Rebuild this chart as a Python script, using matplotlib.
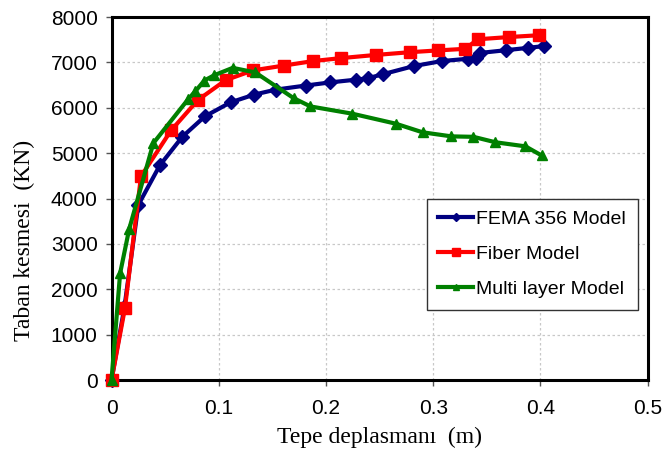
import matplotlib.pyplot as plt
import numpy as np

# FEMA 356 Model
femaX = [0, 0.012, 0.025, 0.045, 0.066, 0.087, 0.111, 0.133, 0.153, 0.181, 0.204,
         0.228, 0.239, 0.253, 0.282, 0.308, 0.332, 0.340, 0.344, 0.368, 0.388, 0.403]
femaY = [0, 1600, 3860, 4730, 5360, 5810, 6120, 6290, 6400, 6490, 6560,
         6620, 6650, 6740, 6920, 7030, 7080, 7100, 7210, 7270, 7320, 7360]

# Fiber Model
fiberX = [0, 0.0125, 0.0275, 0.0555, 0.0805, 0.1065, 0.132, 0.1605, 0.188, 0.214,
          0.2465, 0.278, 0.3045, 0.33, 0.3415, 0.371, 0.399]
fiberY = [0, 1580, 4490, 5500, 6170, 6610, 6825, 6930, 7030, 7095,
          7165, 7225, 7265, 7300, 7510, 7560, 7600]

# Multi layer Model
multiX = [0, 0.008, 0.0165, 0.039, 0.0715, 0.078, 0.0865, 0.096, 0.113, 0.134,
          0.17, 0.1855, 0.2245, 0.265, 0.29, 0.317, 0.3375, 0.358, 0.386, 0.401]
multiY = [0, 2350, 3330, 5220, 6190, 6360, 6600, 6720, 6880, 6780,
          6210, 6030, 5870, 5650, 5460, 5370, 5360, 5240, 5150, 4950]

xTicks = [0, 0.1, 0.2, 0.3, 0.4, 0.5]
xTickLabels = ["0", "0.1", "0.2", "0.3", "0.4", "0.5"]
yTicks = [0, 1000, 2000, 3000, 4000, 5000, 6000, 7000, 8000]


def drawChart():
    fig = plt.figure(figsize=(6.65, 4.61), dpi=100)
    ax = fig.add_axes([0.1677, 0.1757, 0.8063, 0.7873])

    ax.plot(femaX, femaY, color="#000080", lw=3, marker="D", ms=7,
            label="FEMA 356 Model", clip_on=False, zorder=3)
    ax.plot(fiberX, fiberY, color="#ff0000", lw=3, marker="s", ms=8.5,
            label="Fiber Model", clip_on=False, zorder=4)
    ax.plot(multiX, multiY, color="#008000", lw=3, marker="^", ms=7.5,
            label="Multi layer Model", clip_on=False, zorder=5)

    ax.set_xlim(0, 0.5)
    ax.set_ylim(0, 8000)
    ax.set_xticks(xTicks)
    ax.set_xticklabels(xTickLabels)
    ax.set_yticks(yTicks)
    ax.tick_params(labelsize=15, length=4, width=1, color="#555555")
    ax.tick_params(axis="x", pad=10)
    ax.tick_params(axis="y", pad=6)
    for lbl in ax.get_xticklabels() + ax.get_yticklabels():
        lbl.set_family("Liberation Sans")

    ax.grid(True, color="#c8c8c8", linestyle=(0, (2, 2)), lw=0.9)
    ax.set_axisbelow(True)
    for s in ax.spines.values():
        s.set_linewidth(2.2)

    ax.set_xlabel("Tepe deplasmanı  (m)", family="Liberation Serif", fontsize=17, labelpad=6)
    ax.set_ylabel("Taban kesmesi  (KN)", family="Liberation Serif", fontsize=17)
    ax.yaxis.set_label_coords(-0.142, 0.385)

    leg = ax.legend(loc="lower right", bbox_to_anchor=(0.981, 0.193),
                    borderaxespad=0,
                    prop={"family": "Liberation Sans", "size": 14},
                    fancybox=False, framealpha=1, edgecolor="#333333",
                    handlelength=1.8, handletextpad=0.15, labelspacing=0.9,
                    markerscale=0.6, borderpad=0.6)
    leg.get_frame().set_linewidth(1)
    return fig


if __name__ == "__main__":
    fig = drawChart()
    fig.savefig("out.png", dpi=100)
